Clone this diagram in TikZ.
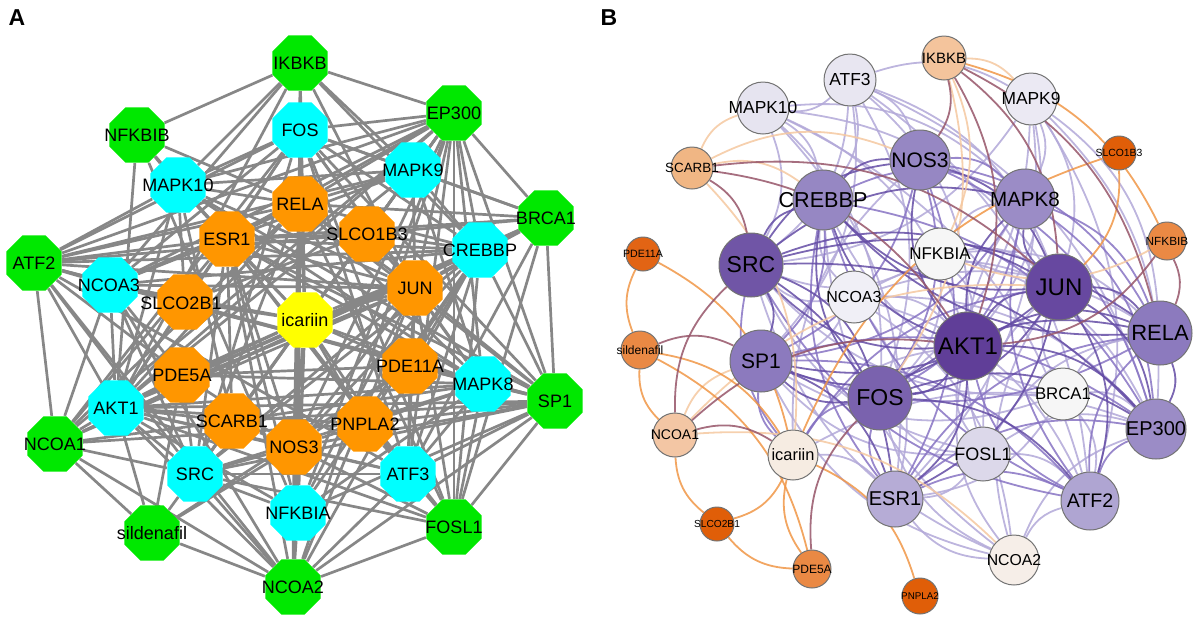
\documentclass[tikz,border=0pt]{standalone}
\usepackage{fontspec}
\setmainfont{Liberation Sans}
\usetikzlibrary{shapes.geometric}
\pgfdeclarelayer{bg}
\pgfsetlayers{bg,main}
% panel A colours
\definecolor{gA}{RGB}{0,232,0}
\definecolor{cA}{RGB}{0,255,255}
\definecolor{oA}{RGB}{255,150,0}
\definecolor{yA}{RGB}{255,255,0}
\definecolor{eA}{RGB}{135,135,135}
% panel B node colours
\definecolor{kAKT1}{RGB}{96,62,152}
\definecolor{kJUN}{RGB}{103,72,160}
\definecolor{kSRC}{RGB}{112,85,166}
\definecolor{kFOS}{RGB}{122,98,174}
\definecolor{kSP1}{RGB}{140,122,190}
\definecolor{kRELA}{RGB}{140,122,190}
\definecolor{kCREBBP}{RGB}{150,135,195}
\definecolor{kNOS3}{RGB}{150,135,195}
\definecolor{kMAPK8}{RGB}{155,140,198}
\definecolor{kEP300}{RGB}{155,140,198}
\definecolor{kATF2}{RGB}{175,165,210}
\definecolor{kESR1}{RGB}{182,172,214}
\definecolor{kFOSL1}{RGB}{220,216,234}
\definecolor{kMAPK10}{RGB}{230,228,240}
\definecolor{kATF3}{RGB}{232,230,241}
\definecolor{kMAPK9}{RGB}{235,233,243}
\definecolor{kNCOA3}{RGB}{240,239,246}
\definecolor{kNFKBIA}{RGB}{246,246,246}
\definecolor{kBRCA1}{RGB}{246,246,246}
\definecolor{kNCOA2}{RGB}{246,238,232}
\definecolor{kicariin}{RGB}{246,236,226}
\definecolor{kIKBKB}{RGB}{244,196,156}
\definecolor{kSCARB1}{RGB}{240,182,132}
\definecolor{kNCOA1}{RGB}{243,198,164}
\definecolor{kNFKBIB}{RGB}{234,137,68}
\definecolor{ksildenafil}{RGB}{234,137,68}
\definecolor{kPDE5A}{RGB}{234,137,68}
\definecolor{kPDE11A}{RGB}{226,100,20}
\definecolor{kSLCO1B3}{RGB}{224,94,8}
\definecolor{kSLCO2B1}{RGB}{224,94,8}
\definecolor{kPNPLA2}{RGB}{224,94,8}
% panel B edge colours
\definecolor{eDark}{RGB}{100,76,165}
\definecolor{eMid}{RGB}{135,115,195}
\definecolor{eLight}{RGB}{178,168,216}
\definecolor{eOr}{RGB}{240,150,70}
\definecolor{eLOr}{RGB}{245,200,160}
\definecolor{eBr}{RGB}{150,85,105}
\begin{document}
\begin{tikzpicture}[x=0.5pt,y=-0.5pt,
  octA/.style={regular polygon, regular polygon sides=8, minimum size=30pt, inner sep=0pt, draw=none},
  txtA/.style={font=\fontsize{9}{9}\selectfont, inner sep=0pt, text=black},
  edgeA/.style={draw=eA, line width=1.35pt},
  circB/.style={circle, draw=black!55, line width=0.5pt, inner sep=0pt},
  edgeB/.style={line width=0.9pt, bend left=24, draw opacity=0.85},
  panel/.style={font=\bfseries\fontsize{11.5}{11.5}\selectfont, inner sep=0pt}]
\useasboundingbox (0,0) rectangle (1200,622);

\node[panel] (lblA) at (17,18) {A};
\node[panel] (lblB) at (609,18) {B};

% ---------------- Panel A ----------------
\foreach \n/\x/\y/\c in {IKBKB/300/63/gA, NFKBIB/137/135/gA, EP300/454/113/gA, FOS/300/130/cA,
  MAPK10/178/185/cA, MAPK9/413/170/cA, RELA/300/204/oA, ESR1/227/239/oA, SLCO1B3/367/234/oA,
  BRCA1/546/218/gA, ATF2/34/263/gA, CREBBP/480/250/cA, NCOA3/110/285/cA, JUN/415/288/oA,
  SLCO2B1/185/302/oA, icariin/305/320/yA, PDE5A/182/375/oA, PDE11A/410/366/oA, MAPK8/483/384/cA,
  SP1/555/401/gA, AKT1/116/408/cA, NCOA1/55/444/gA, SCARB1/232/421/oA, NOS3/294/447/oA,
  PNPLA2/365/424/oA, SRC/195/474/cA, ATF3/408/474/cA, NFKBIA/298/513/cA, sildenafil/152/533/gA,
  FOSL1/454/527/gA, NCOA2/293/587/gA}
  {\node[octA, fill=\c] (a\n) at (\x,\y) {};}

\foreach \n/\x/\y in {IKBKB/300/63, NFKBIB/137/135, EP300/454/113, FOS/300/130,
  MAPK10/178/185, MAPK9/413/170, RELA/300/204, ESR1/227/239, SLCO1B3/367/234,
  BRCA1/546/218, ATF2/34/263, CREBBP/480/250, NCOA3/109/285, JUN/415/288,
  SLCO2B1/181/303, icariin/305/320, PDE5A/182/375, PDE11A/410/366, MAPK8/483/384,
  SP1/555/401, AKT1/116/408, NCOA1/55/444, SCARB1/232/421, NOS3/294/447,
  PNPLA2/365/424, SRC/195/474, ATF3/408/474, NFKBIA/298/513, sildenafil/152/533,
  FOSL1/454/527, NCOA2/293/587}
  {\node[txtA] (a\n-t) at (\x,\y) {\n};}

\begin{pgfonlayer}{bg}
\foreach \p/\q in {icariin/FOS, icariin/RELA, icariin/ESR1, icariin/SLCO1B3, icariin/JUN, icariin/SLCO2B1,
  icariin/PDE5A, icariin/PDE11A, icariin/SCARB1, icariin/NOS3, icariin/PNPLA2, icariin/AKT1, icariin/SRC,
  icariin/NFKBIA, icariin/MAPK8, icariin/MAPK10, icariin/CREBBP, icariin/NCOA3, icariin/ATF3, icariin/MAPK9,
  icariin/IKBKB, icariin/NCOA2, icariin/EP300,
  sildenafil/NCOA1, sildenafil/PDE5A, sildenafil/SRC, sildenafil/NCOA2, sildenafil/PDE11A, sildenafil/NOS3, sildenafil/AKT1,
  RELA/IKBKB, RELA/NFKBIB, RELA/FOS, RELA/JUN, RELA/EP300, RELA/CREBBP, RELA/ESR1, RELA/AKT1, RELA/SRC,
  RELA/NFKBIA, RELA/MAPK8, RELA/SP1, RELA/BRCA1, RELA/NCOA3, RELA/NCOA1, RELA/ATF2, RELA/MAPK10, RELA/MAPK9,
  RELA/NOS3, RELA/NCOA2, RELA/FOSL1,
  ESR1/FOS, ESR1/JUN, ESR1/EP300, ESR1/CREBBP, ESR1/SP1, ESR1/NCOA3, ESR1/NCOA1, ESR1/NCOA2, ESR1/BRCA1,
  ESR1/AKT1, ESR1/SRC, ESR1/MAPK8, ESR1/MAPK9, ESR1/MAPK10, ESR1/ATF2, ESR1/ATF3, ESR1/NOS3, ESR1/FOSL1, ESR1/NFKBIA,
  JUN/FOS, JUN/ATF2, JUN/ATF3, JUN/MAPK8, JUN/MAPK9, JUN/MAPK10, JUN/EP300, JUN/CREBBP, JUN/SP1, JUN/FOSL1,
  JUN/NCOA1, JUN/NCOA3, JUN/AKT1, JUN/SRC, JUN/BRCA1, JUN/NFKBIA, JUN/IKBKB, JUN/NCOA2,
  SLCO1B3/MAPK9, SLCO1B3/JUN, SLCO1B3/CREBBP, SLCO1B3/ESR1, SLCO1B3/EP300,
  SLCO2B1/NCOA3, SLCO2B1/ATF2, SLCO2B1/AKT1, SLCO2B1/SLCO1B3, SLCO2B1/MAPK10,
  PDE5A/AKT1, PDE5A/SRC, PDE5A/NOS3, PDE5A/PDE11A, PDE5A/ATF2, PDE5A/NCOA3, PDE5A/MAPK8,
  PDE11A/MAPK8, PDE11A/JUN, PDE11A/ATF3, PDE11A/NOS3, PDE11A/SP1, PDE11A/CREBBP,
  SCARB1/AKT1, SCARB1/SRC, SCARB1/MAPK10, SCARB1/ESR1, SCARB1/NOS3, SCARB1/SP1, SCARB1/NCOA1, SCARB1/MAPK8,
  NOS3/AKT1, NOS3/SRC, NOS3/SP1, NOS3/NFKBIA, NOS3/ATF3, NOS3/MAPK8, NOS3/FOSL1, NOS3/NCOA2, NOS3/JUN,
  NOS3/FOS, NOS3/CREBBP, NOS3/EP300,
  PNPLA2/AKT1, PNPLA2/ATF3, PNPLA2/MAPK8, PNPLA2/SP1, PNPLA2/CREBBP, PNPLA2/NCOA1,
  FOS/IKBKB, FOS/EP300, FOS/MAPK9, FOS/MAPK10, FOS/CREBBP, FOS/SP1, FOS/ATF2, FOS/ATF3, FOS/FOSL1,
  FOS/AKT1, FOS/SRC, FOS/NCOA3, FOS/MAPK8, FOS/BRCA1, FOS/NCOA1,
  AKT1/MAPK8, AKT1/MAPK9, AKT1/MAPK10, AKT1/SRC, AKT1/NFKBIA, AKT1/IKBKB, AKT1/NFKBIB, AKT1/EP300,
  AKT1/CREBBP, AKT1/SP1, AKT1/BRCA1, AKT1/FOSL1, AKT1/NCOA1, AKT1/NCOA2, AKT1/NCOA3, AKT1/ATF2, AKT1/ATF3,
  SRC/EP300, SRC/CREBBP, SRC/SP1, SRC/NCOA1, SRC/NCOA2, SRC/NCOA3, SRC/MAPK8, SRC/ATF2, SRC/ATF3,
  SRC/NFKBIA, SRC/FOSL1,
  EP300/MAPK9, EP300/BRCA1, EP300/CREBBP, EP300/SP1, EP300/ATF2, EP300/ATF3, EP300/NCOA1, EP300/NCOA2,
  EP300/NCOA3, EP300/FOSL1, EP300/NFKBIA, EP300/MAPK8, EP300/IKBKB, EP300/MAPK10,
  CREBBP/BRCA1, CREBBP/SP1, CREBBP/ATF2, CREBBP/NCOA1, CREBBP/NCOA2, CREBBP/NCOA3, CREBBP/FOSL1,
  CREBBP/ATF3, CREBBP/MAPK9, CREBBP/NFKBIA,
  BRCA1/SP1, BRCA1/ATF2, BRCA1/ATF3, BRCA1/FOSL1, BRCA1/NCOA1, BRCA1/MAPK9,
  SP1/MAPK8, SP1/FOSL1, SP1/ATF2, SP1/NFKBIA, SP1/NCOA2, SP1/ATF3, SP1/NCOA3, SP1/MAPK10,
  ATF2/MAPK10, ATF2/MAPK9, ATF2/NCOA3, ATF2/NCOA1, ATF2/NCOA2, ATF2/ATF3, ATF2/MAPK8,
  NFKBIB/IKBKB, NFKBIB/MAPK10, NFKBIB/NFKBIA, NFKBIB/ESR1,
  NCOA1/NCOA3, NCOA1/NCOA2, NCOA2/NFKBIA, NCOA2/ATF3, NCOA2/FOSL1, NCOA2/NCOA3,
  FOSL1/ATF3, FOSL1/MAPK8, MAPK8/MAPK9, MAPK8/MAPK10, MAPK8/NFKBIA, MAPK8/ATF3, MAPK9/MAPK10,
  IKBKB/NFKBIA, IKBKB/MAPK10, IKBKB/MAPK9, IKBKB/CREBBP, IKBKB/NCOA3}
  {\draw[edgeA] (a\p) -- (a\q);}
\end{pgfonlayer}

% ---------------- Panel B ----------------
\foreach \n/\x/\y/\r in {ATF3/850/80/26, MAPK10/763/108/26, SCARB1/692/168/21, CREBBP/823/200/30,
  PDE11A/643/254/17, SRC/751/265/32, NCOA3/854/297/26, NOS3/920/160/30, IKBKB/944/58/22,
  MAPK9/1031/99/26, SLCO1B3/1119/153/17, MAPK8/1025/199/30, NFKBIA/940/254/26, NFKBIB/1167/241/19,
  JUN/1059/287/33, sildenafil/640/350/19, SP1/761/361/31, FOS/880/398/32, NCOA1/675/435/22,
  icariin/793/455/25, ESR1/895/499/28, SLCO2B1/717/524/17, PDE5A/812/569/19, AKT1/968/346/34,
  RELA/1160/333/32, BRCA1/1063/394/26, EP300/1156/429/30, FOSL1/983/454/27, ATF2/1090/501/29,
  NCOA2/1014/560/25, PNPLA2/920/596/18}
  {\node[circB, fill=k\n, minimum size=\r pt] (b\n) at (\x,\y) {};}

\foreach \n/\f in {ATF3/8.7, MAPK10/8.7, SCARB1/6.7, CREBBP/10.8, PDE11A/5.3, SRC/11.5, NCOA3/8,
  NOS3/10.5, IKBKB/7.5, MAPK9/8.7, SLCO1B3/5.2, MAPK8/10.3, NFKBIA/8.5, NFKBIB/5.9, JUN/12,
  sildenafil/6, SP1/10.5, FOS/11.5, NCOA1/7, icariin/8.2, ESR1/10, SLCO2B1/5.1, PDE5A/6,
  AKT1/12, RELA/11, BRCA1/8.4, EP300/10, FOSL1/9, ATF2/9.8, NCOA2/7.9, PNPLA2/4.9}
  {\node[inner sep=0pt, font=\fontsize{\f}{\f}\selectfont] (b\n-t) at (b\n) {\n};}

\begin{pgfonlayer}{bg}
% light purple edges
\foreach \p/\q in {MAPK10/JUN, MAPK10/AKT1, MAPK10/SRC, MAPK10/MAPK8, MAPK10/ATF2, MAPK10/FOS, MAPK10/CREBBP,
  MAPK10/ESR1, ATF3/JUN, ATF3/FOS, ATF3/ATF2, ATF3/SRC, ATF3/AKT1, ATF3/SP1, ATF3/CREBBP, ATF3/EP300,
  ATF3/NOS3, ATF3/MAPK10, MAPK9/JUN, MAPK9/AKT1, MAPK9/MAPK8, MAPK9/FOS, MAPK9/SRC, MAPK9/ATF2, MAPK9/RELA,
  MAPK9/ESR1, MAPK9/EP300, NCOA3/ESR1, NCOA3/EP300, NCOA3/CREBBP, NCOA3/SRC, NCOA3/AKT1, NCOA3/JUN,
  NCOA3/SP1, NCOA3/RELA, NCOA3/ATF2, NCOA3/NCOA2, NFKBIA/RELA, NFKBIA/AKT1, NFKBIA/JUN, NFKBIA/SRC,
  NFKBIA/EP300, NFKBIA/MAPK8, NFKBIA/FOS, BRCA1/AKT1, BRCA1/JUN, BRCA1/EP300, BRCA1/CREBBP, BRCA1/ESR1,
  BRCA1/SP1, BRCA1/ATF2, BRCA1/RELA, BRCA1/SRC, FOSL1/JUN, FOSL1/FOS, FOSL1/ATF2, FOSL1/SP1, FOSL1/AKT1,
  FOSL1/EP300, FOSL1/ESR1, FOSL1/SRC, FOSL1/RELA, FOSL1/MAPK8, NCOA2/ESR1, NCOA2/EP300, NCOA2/CREBBP,
  NCOA2/AKT1, NCOA2/SRC, NCOA2/SP1, NCOA2/ATF2, NCOA2/JUN, NCOA2/FOS, icariin/ESR1, icariin/AKT1,
  icariin/NOS3, icariin/EP300, ATF3/MAPK9}
  {\draw[edgeB, draw=eLight] (b\p) to (b\q);}
% mid purple edges
\foreach \p/\q in {SP1/EP300, RELA/SP1, CREBBP/EP300, NOS3/ESR1, MAPK8/RELA, MAPK8/FOS, MAPK8/SP1,
  ATF2/EP300, ATF2/CREBBP, ATF2/AKT1, ATF2/SRC, ATF2/RELA, ESR1/EP300, ESR1/CREBBP, ESR1/FOS, ESR1/RELA,
  NOS3/SP1, NOS3/FOS, NOS3/RELA, NOS3/MAPK8, CREBBP/SP1, CREBBP/MAPK8, ATF2/MAPK8, ESR1/ATF2, NOS3/EP300,
  SP1/ATF2, MAPK8/EP300, icariin/FOS, icariin/SP1, icariin/JUN, icariin/SRC}
  {\draw[edgeB, draw=eMid] (b\p) to (b\q);}
% dark purple edges
\foreach \p/\q in {AKT1/JUN, AKT1/SRC, AKT1/FOS, JUN/FOS, AKT1/RELA, JUN/RELA, SRC/SP1, AKT1/SP1, JUN/SP1,
  FOS/SP1, SRC/CREBBP, JUN/CREBBP, AKT1/CREBBP, AKT1/NOS3, SRC/NOS3, JUN/MAPK8, AKT1/MAPK8, SRC/EP300,
  JUN/EP300, RELA/EP300, AKT1/EP300, FOS/EP300, JUN/ATF2, AKT1/ESR1, SRC/ESR1, JUN/ESR1, FOS/ATF2,
  RELA/CREBBP, FOS/CREBBP, SP1/ESR1, SRC/JUN, SRC/FOS, SRC/RELA, FOS/RELA, NOS3/JUN, CREBBP/NOS3, SRC/MAPK8}
  {\draw[edgeB, draw=eDark] (b\p) to (b\q);}
% light orange edges
\foreach \p/\q in {SCARB1/MAPK10, SCARB1/NOS3, SCARB1/CREBBP, NCOA1/NCOA2, NCOA1/SP1, IKBKB/NFKBIA,
  IKBKB/MAPK9, NFKBIB/NFKBIA, SCARB1/icariin, NCOA1/JUN, IKBKB/FOS}
  {\draw[edgeB, draw=eLOr] (b\p) to (b\q);}
% orange edges
\foreach \p/\q in {sildenafil/PDE11A, NCOA1/sildenafil, SLCO2B1/NCOA1, PDE5A/SLCO2B1, icariin/SLCO2B1,
  sildenafil/PDE5A, PDE11A/icariin, icariin/PNPLA2, icariin/SLCO1B3, IKBKB/NFKBIB, SLCO1B3/JUN,
  PDE5A/icariin, sildenafil/icariin}
  {\draw[edgeB, draw=eOr] (b\p) to (b\q);}
% brown edges
\foreach \p/\q in {SCARB1/SRC, SCARB1/AKT1, PDE5A/FOS, sildenafil/SP1, NCOA1/SRC, NCOA1/AKT1, IKBKB/NOS3,
  IKBKB/JUN, IKBKB/RELA, IKBKB/AKT1, NFKBIB/RELA, NFKBIB/AKT1, NCOA1/icariin, SCARB1/JUN}
  {\draw[edgeB, draw=eBr] (b\p) to (b\q);}
\end{pgfonlayer}
\end{tikzpicture}
\end{document}
